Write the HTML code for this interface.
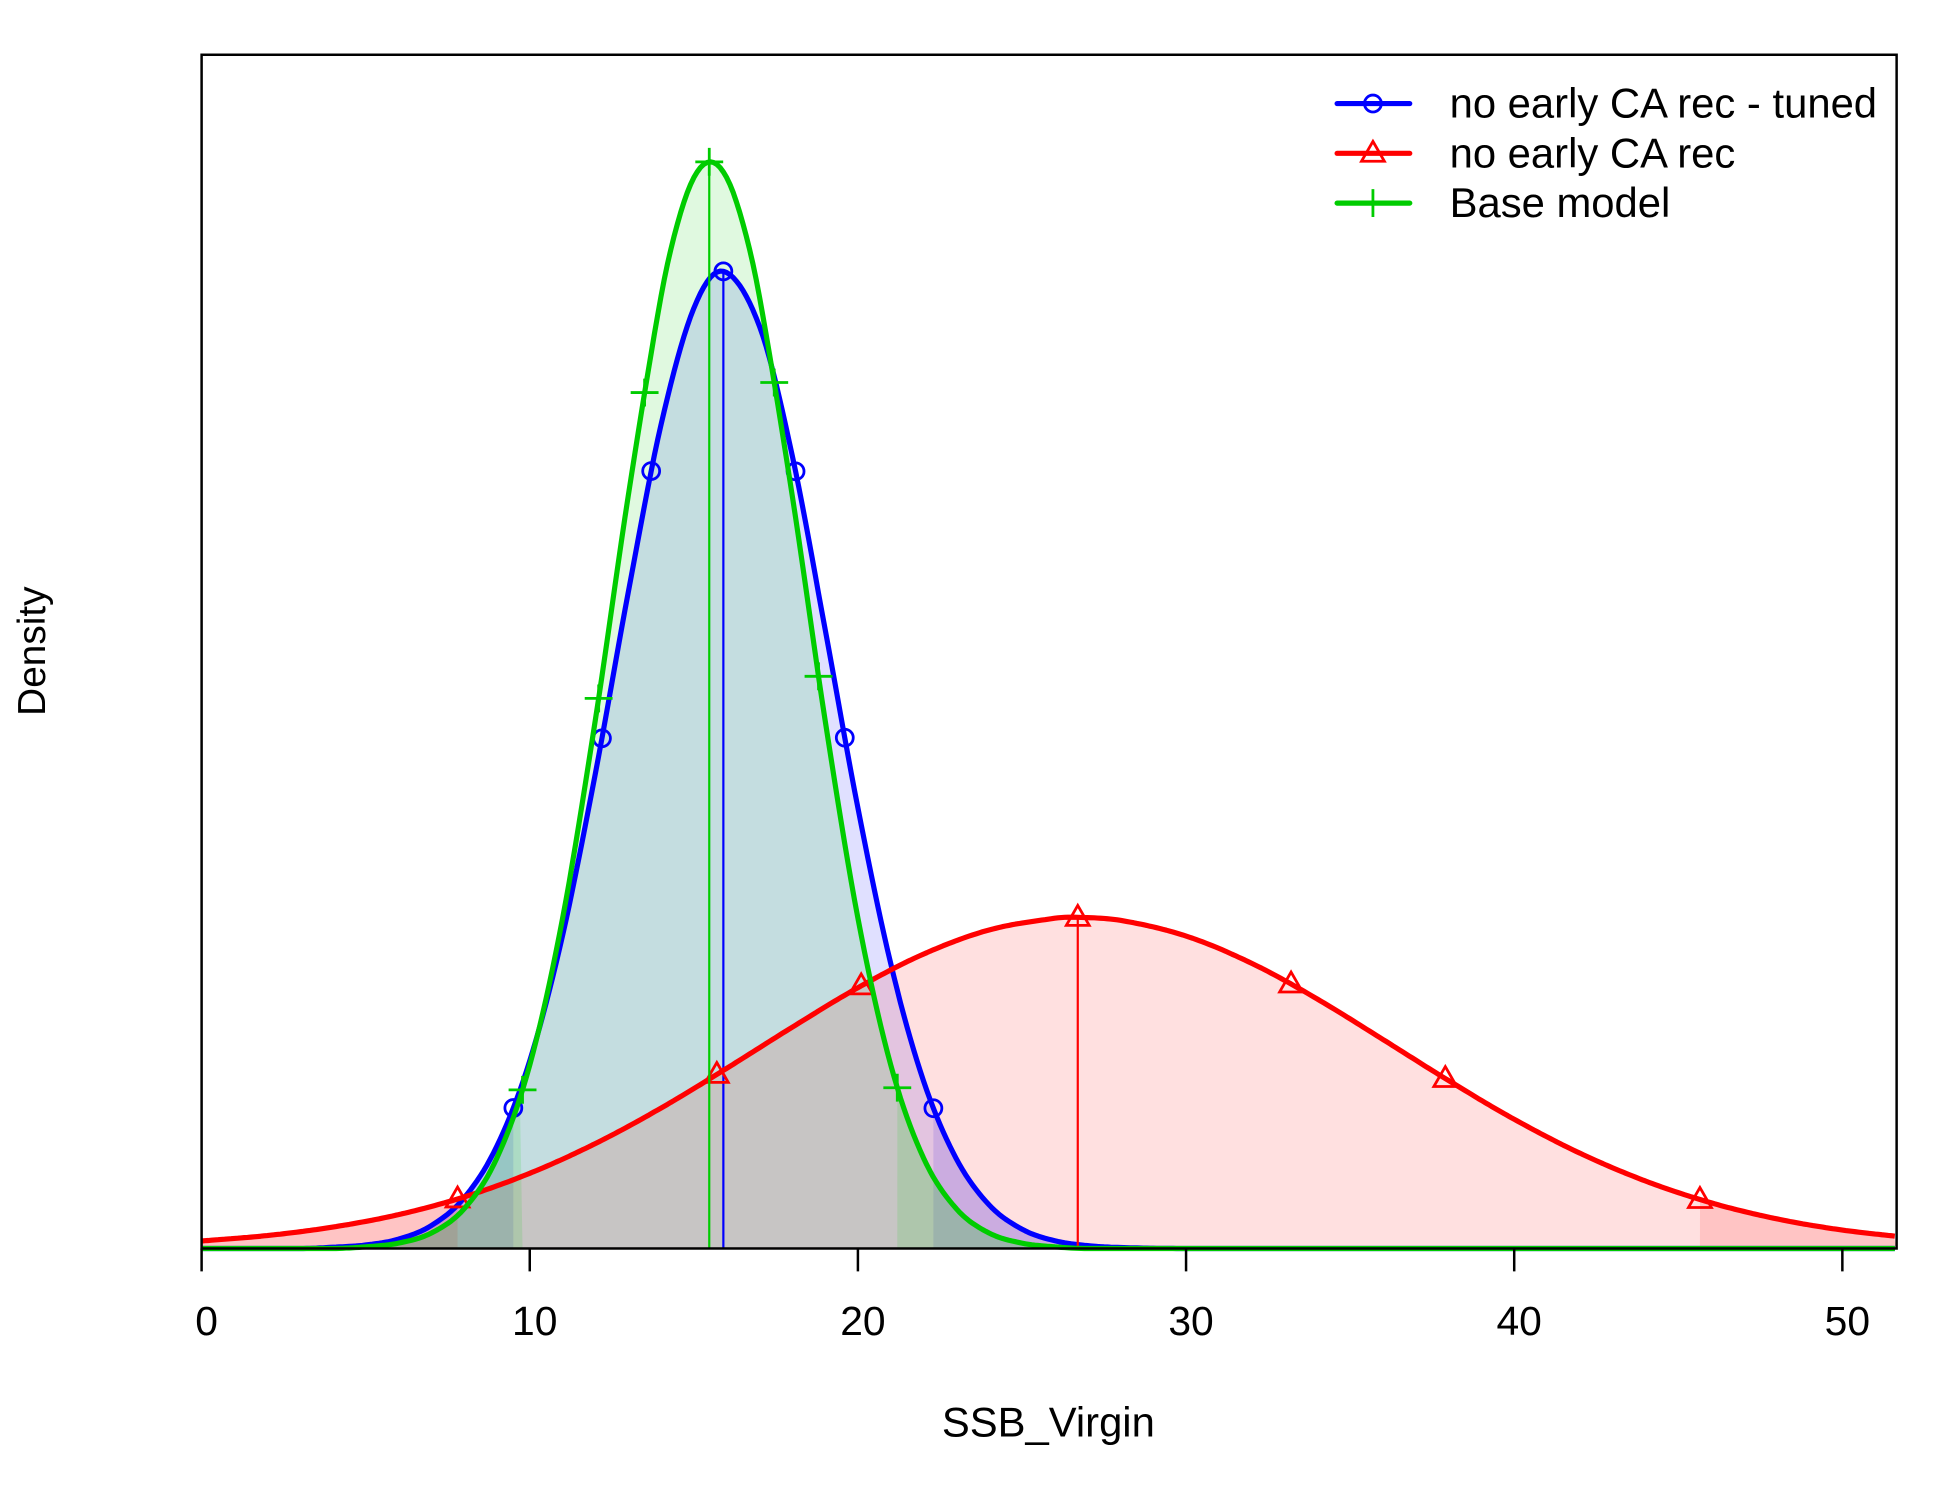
<!DOCTYPE html>
<html><head><meta charset="utf-8"><style>
html,body{margin:0;padding:0;background:#fff;}
svg{display:block;font-family:"Liberation Sans",Arial,sans-serif;}
</style></head><body>
<svg id="chart" width="1950" height="1500" viewBox="0 0 1950 1500">
<g transform="scale(0.9956)">
<g id="fills"></g>
<g id="lines"></g>
<rect x="202.5" y="55" width="1702.5" height="1199" fill="none" stroke="#000" stroke-width="2.5"/>
<g id="axis"></g>
<text x="1053" y="1443" font-size="42" text-anchor="middle">SSB_Virgin</text>
<text transform="translate(45,654) rotate(-90)" font-size="39" text-anchor="middle">Density</text>
<g id="legend"></g>
</g>
</svg>
<script>
// series data (density in arbitrary units ×1e-3)
const blueX = [0,3,4,5,6,7,8,9,10,11,12,13,14,15,15.9,17,18,19,20,21,22,23,24,25,26,27,28,30,52];
const blueY = [0,0,1,2.8,7.5,18.4,40.7,82.3,150.8,251.6,381.6,527,661.6,755.4,785,741,636.8,497.8,353.9,228.8,134.6,72,35,15.5,6.2,2.3,0.8,0,0];
const greenX = [0,4,5,6,7,8,9,10,11,12,13,14,14.5,15,15.5,16,16.5,17,18,19,20,21,22,23,24,25,26,27,52];
const greenY = [0,0,1.3,4.3,12.4,31.9,72.7,147.4,265.4,424.7,604.5,764.7,823.1,860.3,873,860.3,823.1,764.7,604.5,424.7,265.4,147.4,72.7,31.9,12.4,4.3,1.3,0,0];
const redX = [0,2,4,6,8,10,12,14,16,18,20,22,24,26,26.7,28,30,32,34,36,38,40,42,44,46,48,50,52];
const redY = [6,10.4,17.2,27.2,41.4,60.4,84.3,112.8,144.7,177.8,209.5,236.5,255.9,265.3,266,263.6,251,229.1,200.4,167.9,134.9,103.8,76.6,54.2,36.7,23.8,14.8,8.8];
const blueMarks = [9.5,12.2,13.7,15.9,18.1,19.6,22.3];
const greenMarks = [9.78,12.1,13.5,15.47,17.45,18.8,21.2];
const redMarks = [7.8,15.7,20.1,26.7,33.2,37.9,45.66];
const xTicks = [0,10,20,30,40,50];
const legendLabels = ["no early CA rec - tuned","no early CA rec","Base model"];

const NS="http://www.w3.org/2000/svg";
const L=202.5,R=1905,T=55,B=1254,YMAX=959,XMAX=(R-L)/32.96;
const X=v=>L+v*32.96, Y=v=>B-v/YMAX*(B-T);
function mk(tag,attrs,parent){const e=document.createElementNS(NS,tag);for(const k in attrs)e.setAttribute(k,attrs[k]);parent.appendChild(e);return e;}
function smooth(xs,ys,a,b){const pts=[];for(let x=a;x<=b+1e-9;x+=0.1)pts.push([X(x),Y(Math.max(0,cr(xs,ys,x)))]);return pts;}
function cr(xs,ys,x){let i=1;while(i<xs.length-1&&x>xs[i])i++;const i0=Math.max(0,i-2),i1=i-1,i2=i,i3=Math.min(xs.length-1,i+1);
 const h=xs[i2]-xs[i1],t=(x-xs[i1])/h;const m1=(ys[i2]-ys[i0])/(xs[i2]-xs[i0])*h,m2=(ys[i3]-ys[i1])/(xs[i3]-xs[i1])*h;
 const t2=t*t,t3=t2*t;return (2*t3-3*t2+1)*ys[i1]+(t3-2*t2+t)*m1+(-2*t3+3*t2)*ys[i2]+(t3-t2)*m2;}
function val(xs,ys,x){return Math.max(0,cr(xs,ys,x));}
function areaPath(xs,ys,a,b){const p=smooth(xs,ys,a,b);let d=`M${X(a)},${B}`;p.forEach(q=>d+=`L${q[0].toFixed(1)},${q[1].toFixed(1)}`);return d+`L${X(b)},${B}Z`;}
const fills=document.getElementById('fills'),lines=document.getElementById('lines');
const series=[
 {name:'blue',xs:blueX,ys:blueY,col:'#0000FF',fill:'rgba(0,0,255,0.12)',m:blueMarks,mark:'circle'},
 {name:'red',xs:redX,ys:redY,col:'#FF0000',fill:'rgba(255,0,0,0.12)',m:redMarks,mark:'triangle'},
 {name:'green',xs:greenX,ys:greenY,col:'#00CC00',fill:'rgba(0,204,0,0.12)',m:greenMarks,mark:'plus'}];
function marker(type,cx,cy,col,parent){
 if(type==='circle')return mk('circle',{cx,cy,r:8.5,fill:'none',stroke:col,'stroke-width':2.8},parent);
 if(type==='triangle')return mk('path',{d:`M${cx},${cy-12}L${cx+11.5},${cy+8}L${cx-11.5},${cy+8}Z`,fill:'none',stroke:col,'stroke-width':2.8},parent);
 return mk('path',{d:`M${cx-14},${cy}H${cx+14}M${cx},${cy-14}V${cy+14}`,stroke:col,'stroke-width':2.8},parent);}
series.forEach(s=>{
 let e=mk('path',{d:areaPath(s.xs,s.ys,0,XMAX),fill:s.fill},fills);
 
 
 const lo=s.m[0],hi=s.m[s.m.length-1];
 e=mk('path',{d:areaPath(s.xs,s.ys,0,lo),fill:s.fill},fills);
 
 
 e=mk('path',{d:areaPath(s.xs,s.ys,hi,XMAX),fill:s.fill},fills);
 
 
});
series.forEach(s=>{
 const p=smooth(s.xs,s.ys,0,XMAX);
 let e=mk('polyline',{points:p.map(q=>q[0].toFixed(1)+','+q[1].toFixed(1)).join(' '),fill:'none',stroke:s.col,'stroke-width':5.2,'stroke-linejoin':'round'},lines);
 
 
 const mid=s.m[3];
 e=mk('line',{x1:X(mid),x2:X(mid),y1:B,y2:Y(val(s.xs,s.ys,mid)),stroke:s.col,'stroke-width':2.2},lines);
 
 
 s.m.forEach(x=>{const mm=marker(s.mark,X(x),Y(val(s.xs,s.ys,x)),s.col,lines);
  
  });
});
const ax=document.getElementById('axis');
xTicks.forEach(t=>{
 let e=mk('line',{x1:X(t),x2:X(t),y1:B,y2:1277,stroke:'#000','stroke-width':2.5},ax);
 
 
 e=mk('text',{x:X(t)+5,y:1341,'font-size':41,'text-anchor':'middle'},ax);e.textContent=t;
 
 
});
const lg=document.getElementById('legend');
series.forEach((s,i)=>{
 const y=104+i*50;
 let e=mk('line',{x1:1343,x2:1416,y1:y,y2:y,stroke:s.col,'stroke-width':5.2,'stroke-linecap':'round'},lg);
 
 
 e=marker(s.mark,1379,y,s.col,lg);
 
 
 e=mk('text',{x:1456,y:y+14,'font-size':42},lg);e.textContent=legendLabels[i];
 
 
});
</script>
</body></html>
